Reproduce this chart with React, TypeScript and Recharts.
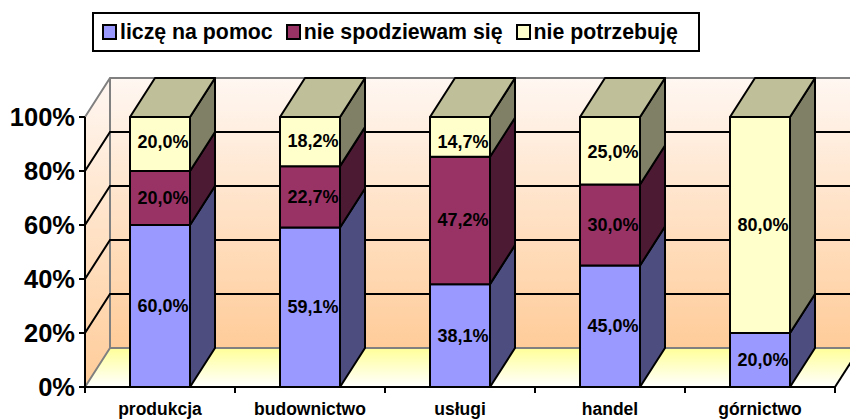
import { Bar, BarChart, LabelList, ReferenceArea, XAxis, YAxis } from 'recharts'

const categories = ['produkcja', 'budownictwo', 'usługi', 'handel', 'górnictwo']
const liczeNaPomoc = [60.0, 59.1, 38.1, 45.0, 20.0]
const nieSpodziewamSie = [20.0, 22.7, 47.2, 30.0, 0]
const niePotrzebuje = [20.0, 18.2, 14.7, 25.0, 80.0]
const yTicks = [0, 20, 40, 60, 80, 100]

const seriesNames = ['liczę na pomoc', 'nie spodziewam się', 'nie potrzebuję']
const frontColors = ['#9999ff', '#993366', '#ffffcc']
const sideColors = ['#4d4d80', '#4d1a33', '#808066']
const topColor = '#bfbf99'

const FONT = '"Liberation Sans", Arial, sans-serif'
const DX = 25
const DY = 39
// the original nudges the top labels a little off centre
const topLabelNudge = [-2, -1, 5, 1, 0]

const rows = categories.map((name, i) => ({
  name,
  a: liczeNaPomoc[i],
  b: nieSpodziewamSie[i],
  c: niePotrzebuje[i],
}))

// back wall, side wall and floor of the fake 3D box
function Walls({ x, y, width, height }: any) {
  const bottom = y + height
  const right = x + width + DX
  const lines = yTicks.slice(1, -1).map((t) => bottom - (t / 100) * height)
  return (
    <g>
      <defs>
        <linearGradient id="wallGrad" x1="0" y1="0" x2="0" y2="1">
          <stop offset="0%" stopColor="#fff7f2" />
          <stop offset="100%" stopColor="#ffcc99" />
        </linearGradient>
        <linearGradient id="floorGrad" x1="0" y1="0" x2="0" y2="1">
          <stop offset="0%" stopColor="#ffff99" />
          <stop offset="100%" stopColor="#ffffff" />
        </linearGradient>
      </defs>
      <rect x={x + DX} y={y - DY} width={right - x} height={height} fill="url(#wallGrad)" />
      <polygon
        points={`${x},${y} ${x + DX},${y - DY} ${x + DX},${bottom - DY} ${x},${bottom}`}
        fill="url(#wallGrad)"
      />
      <polygon
        points={`${x},${bottom} ${x + DX},${bottom - DY} ${right},${bottom - DY} ${x + width},${bottom}`}
        fill="url(#floorGrad)"
      />
      <path
        d={`M${x},${y} L${x + DX},${y - DY} L${right},${y - DY} M${x + DX},${y - DY} L${x + DX},${bottom - DY} L${right},${bottom - DY} M${x},${bottom} L${x + DX},${bottom - DY}`}
        stroke="#808080"
        strokeWidth={2}
        fill="none"
      />
      <line x1={x + width} y1={bottom} x2={right} y2={bottom - DY} stroke="#000" strokeWidth={2} />
      {lines.map((ly) => (
        <path
          key={ly}
          d={`M${x},${ly} L${x + DX},${ly - DY} L${right},${ly - DY}`}
          stroke="#000"
          strokeWidth={2}
          fill="none"
        />
      ))}
    </g>
  )
}

function Box3D({ x, y, width, height, index, top }: any) {
  if (!height) return null
  const r = x + width
  return (
    <g stroke="#000" strokeWidth={2} strokeLinejoin="round">
      <polygon
        points={`${r},${y} ${r + DX},${y - DY} ${r + DX},${y + height - DY} ${r},${y + height}`}
        fill={sideColors[index]}
      />
      {top ? (
        <polygon
          points={`${x},${y} ${x + DX},${y - DY} ${r + DX},${y - DY} ${r},${y}`}
          fill={topColor}
        />
      ) : null}
      <rect x={x} y={y} width={width} height={height} fill={frontColors[index]} />
    </g>
  )
}

function CategoryTick({ x, y, payload }: any) {
  const half = 75
  return (
    <g>
      <line x1={x - half} y1={y - 8} x2={x - half} y2={y - 2} stroke="#000" strokeWidth={2} />
      <line x1={x + half} y1={y - 8} x2={x + half} y2={y - 2} stroke="#000" strokeWidth={2} />
      <text x={x} y={y + 20} textAnchor="middle" fontFamily={FONT} fontWeight={700} fontSize={17.5} fill="#000">
        {payload.value}
      </text>
    </g>
  )
}

function pctLabel(v: any) {
  return v ? `${Number(v).toFixed(1).replace('.', ',')}%` : ''
}

function SegmentLabel({ x, y, width, height, value, index, nudge }: any) {
  if (!value) return null
  return (
    <text
      x={x + width / 2 + 3}
      y={y + height / 2 + (nudge ? nudge[index] : 0)}
      textAnchor="middle"
      dominantBaseline="central"
      fontFamily={FONT}
      fontWeight={700}
      fontSize={18}
      fill="#000"
    >
      {pctLabel(value)}
    </text>
  )
}

export default function App() {
  const keys = ['a', 'b', 'c']
  return (
    <div style={{ position: 'absolute', left: 0, top: 0, width: 850, height: 419, overflow: 'hidden', background: '#fff' }}>
      <div
        style={{
          position: 'absolute',
          left: 92,
          top: 12,
          width: 594,
          height: 36,
          border: '2px solid #000',
          display: 'flex',
          alignItems: 'center',
          fontFamily: FONT,
          fontWeight: 700,
          fontSize: 21.3,
          color: '#000',
          paddingLeft: 8,
          paddingRight: 2,
          whiteSpace: 'nowrap',
        }}
      >
        {seriesNames.map((s, i) => (
          <span key={s} style={{ display: 'flex', alignItems: 'center', marginRight: 13 }}>
            <span
              style={{
                width: 11,
                height: 12,
                border: '2px solid #000',
                background: frontColors[i],
                marginRight: 3,
              }}
            />
            {s}
          </span>
        ))}
      </div>
      <BarChart
        width={850}
        height={419}
        data={rows}
        margin={{ top: 117, right: 15, left: 0, bottom: 0 }}
        style={{ position: 'absolute', left: 0, top: 0 }}
      >
        <ReferenceArea y1={0} y2={100} shape={<Walls />} />
        <XAxis
          dataKey="name"
          height={32}
          interval={0}
          tickLine={false}
          axisLine={{ stroke: '#000', strokeWidth: 2 }}
          tick={<CategoryTick />}
        />
        <YAxis
          width={85}
          domain={[0, 100]}
          ticks={yTicks}
          tickFormatter={(v) => `${v}%`}
          tickSize={6}
          tickMargin={4}
          tickLine={{ stroke: '#000', strokeWidth: 2 }}
          axisLine={{ stroke: '#000', strokeWidth: 2 }}
          tick={{ fontFamily: FONT, fontWeight: 700, fontSize: 25.5, fill: '#000' }}
        />
        {keys.map((k, i) => (
          <Bar
            key={k}
            dataKey={k}
            stackId="s"
            barSize={60}
            isAnimationActive={false}
            shape={(p: any) => <Box3D {...p} index={i} top={i === 2} />}
          >
            <LabelList
              dataKey={k}
              content={(p: any) => <SegmentLabel {...p} nudge={i === 2 ? topLabelNudge : null} />}
            />
          </Bar>
        ))}
      </BarChart>
    </div>
  )
}
